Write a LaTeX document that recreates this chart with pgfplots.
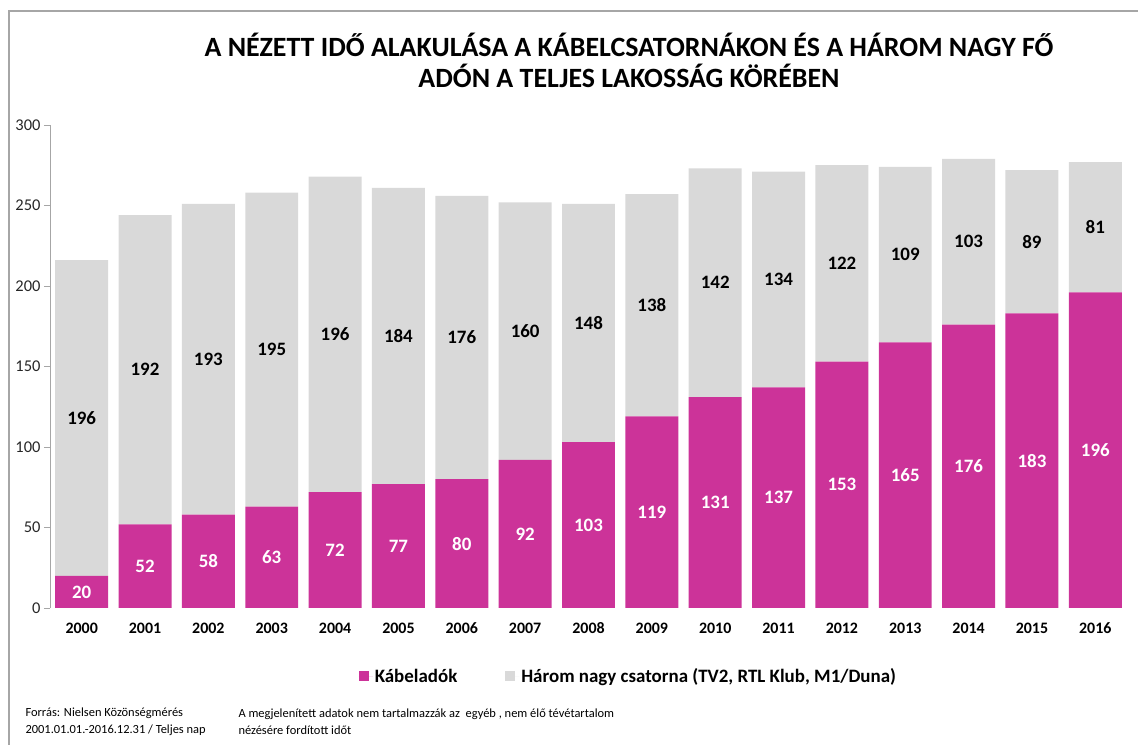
\documentclass[border=0pt]{standalone}
\usepackage{fontspec}
\setmainfont{Carlito}
\usepackage{pgfplots}
\usepackage{pgfplotstable}
\pgfplotsset{compat=1.18}
\definecolor{mag}{RGB}{204,51,153}
\definecolor{lgray}{RGB}{217,217,217}
\definecolor{axgray}{RGB}{166,166,166}
\pgfplotstableread{
x k h
0 20 196
1 52 192
2 58 193
3 63 195
4 72 196
5 77 184
6 80 176
7 92 160
8 103 148
9 119 138
10 131 142
11 137 134
12 153 122
13 165 109
14 176 103
15 183 89
16 196 81
}\datatab
\begin{document}
\begin{tikzpicture}
\useasboundingbox (0,0) rectangle (1138bp,745bp);
\draw[axgray, line width=1.2bp] (9bp,-2bp) -- (9bp,734bp) -- (1140bp,734bp);
\node[font=\fontsize{28}{32}\selectfont\bfseries, align=center] at (629bp,700bp) {A NÉZETT IDŐ ALAKULÁSA A KÁBELCSATORNÁKON ÉS A HÁROM NAGY FŐ};
\node[font=\fontsize{28}{32}\selectfont\bfseries, align=center] at (629bp,669bp) {ADÓN A TELJES LAKOSSÁG KÖRÉBEN};
\begin{axis}[
  at={(50bp,137bp)}, anchor=south west,
  scale only axis, width=1077bp, height=483bp,
  ybar stacked, bar width=0.836,
  xmin=-0.5, xmax=16.5, ymin=0, ymax=300,
  xtick=data,
  xticklabels={2000,2001,2002,2003,2004,2005,2006,2007,2008,2009,2010,2011,2012,2013,2014,2015,2016},
  x tick label style={font=\fontsize{16}{18}\selectfont\bfseries, anchor=center, yshift=-14bp},
  ytick={0,50,100,150,200,250,300},
  yticklabel={\fontsize{16.5}{18}\selectfont\pgfmathprintnumber[assume math mode=true]{\tick}},
  y tick label style={text=black!85, anchor=east},
  axis lines*=left, separate axis lines,
  x axis line style={draw=none},
  y axis line style={draw=axgray, line width=0.8bp},
  xtick style={draw=none},
  ytick style={draw=axgray, line width=0.8bp},
  tick align=outside, major tick length=6bp,
  legend style={at={(0.537,-0.141)}, anchor=center, draw=none, legend columns=2,
    font=\fontsize{19}{22}\selectfont\bfseries,
    /tikz/every even column/.append style={column sep=46bp}},
  legend image code/.code={\fill[#1] (0bp,-5bp) rectangle (10bp,5bp); \path (0bp,0bp) -- (14bp,0bp);},
]
\addplot[fill=mag, draw=none] table[x=x, y=k] {\datatab};
\addlegendentry{Kábeladók}
\addplot[fill=lgray, draw=none] table[x=x, y=h] {\datatab};
\addlegendentry{Három nagy csatorna (TV2, RTL Klub, M1/Duna)}
\end{axis}
\begin{axis}[
  at={(50bp,137bp)}, anchor=south west,
  scale only axis, width=1077bp, height=483bp,
  xmin=-0.5, xmax=16.5, ymin=0, ymax=300,
  hide axis, clip=false,
]
\addplot[only marks, mark=none, nodes near coords, nodes near coords align=center,
  point meta=explicit symbolic,
  every node near coord/.append style={font=\fontsize{19}{21}\selectfont\bfseries, text=white, anchor=center}]
  table[x=x, y expr=\thisrow{k}/2, meta=k] {\datatab};
\addplot[only marks, mark=none, nodes near coords, nodes near coords align=center,
  point meta=explicit symbolic,
  every node near coord/.append style={font=\fontsize{19}{21}\selectfont\bfseries, text=black, anchor=center}]
  table[x=x, y expr=\thisrow{k}+\thisrow{h}/2, meta=h] {\datatab};
\end{axis}
\node[anchor=west, align=left, font=\fontsize{12.5}{17}\selectfont] at (22bp,23bp) {Forrás: Nielsen Közönségmérés\\2001.01.01.-2016.12.31 / Teljes nap};
\node[anchor=west, align=left, font=\fontsize{12.5}{17}\selectfont] at (235bp,23bp) {A megjelenített adatok nem tartalmazzák az~ egyéb , nem élő tévétartalom\\nézésére fordított időt};
\end{tikzpicture}
\end{document}
